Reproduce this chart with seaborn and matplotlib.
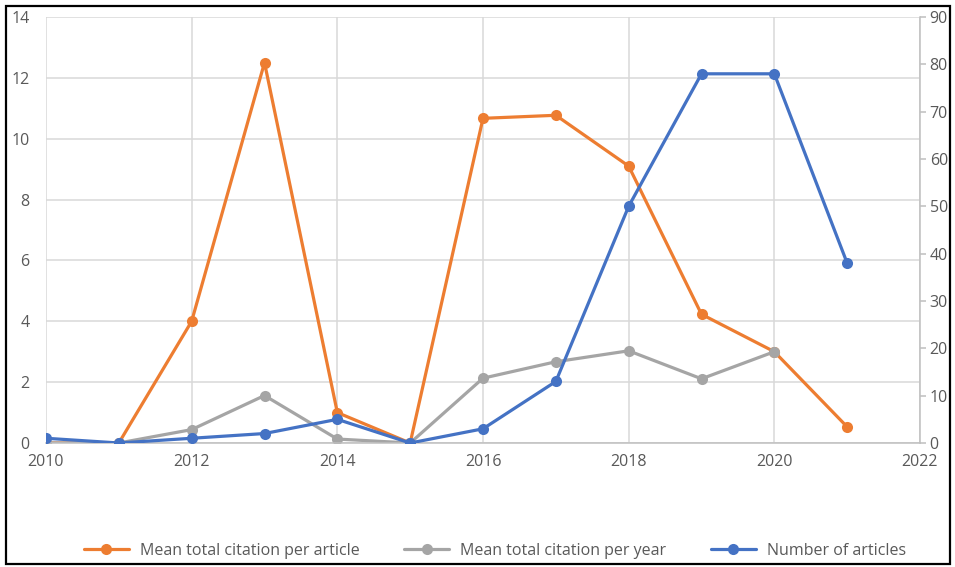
import matplotlib
matplotlib.use("Agg")
import matplotlib.pyplot as plt
import matplotlib.patches as mpatches
import seaborn as sns
import pandas as pd

years = [2010, 2011, 2012, 2013, 2014, 2015, 2016, 2017, 2018, 2019, 2020, 2021]
mean_citation_per_article = [0.0, 0.0, 4.0, 12.5, 1.0, 0.0, 10.67, 10.77, 9.1, 4.23, 3.0, 0.53]
mean_citation_per_year = [0.0, 0.0, 0.44, 1.56, 0.13, 0.0, 2.13, 2.67, 3.03, 2.11, 3.0]
number_of_articles = [1, 0, 1, 2, 5, 0, 3, 13, 50, 78, 78, 38]

left_ticks = [0, 2, 4, 6, 8, 10, 12, 14]
right_ticks = [0, 10, 20, 30, 40, 50, 60, 70, 80, 90]
x_ticks = [2010, 2012, 2014, 2016, 2018, 2020, 2022]

ORANGE = "#ED7D31"
GRAY = "#A5A5A5"
BLUE = "#4472C4"
TEXT = "#595959"
GRID = "#D9D9D9"
FS = 11.5

sns.set_style("white")
plt.rcParams["font.family"] = ["Open Sans", "DejaVu Sans"]
plt.rcParams["font.size"] = FS

df_article = pd.DataFrame({"year": years, "value": mean_citation_per_article})
df_year = pd.DataFrame({"year": years[:len(mean_citation_per_year)], "value": mean_citation_per_year})
df_count = pd.DataFrame({"year": years, "value": number_of_articles})

fig = plt.figure(figsize=(9.55, 5.67), dpi=100)
ax = fig.add_axes([46 / 955, 1 - 443 / 567, (920 - 46) / 955, (443 - 17) / 567])
ax2 = ax.twinx()

line_kw = dict(linewidth=2.3, marker="o", markersize=8, markeredgewidth=0)
sns.lineplot(data=df_article, x="year", y="value", ax=ax, color=ORANGE,
             label="Mean total citation per article", legend=False, **line_kw)
sns.lineplot(data=df_year, x="year", y="value", ax=ax, color=GRAY,
             label="Mean total citation per year", legend=False, **line_kw)
sns.lineplot(data=df_count, x="year", y="value", ax=ax2, color=BLUE,
             label="Number of articles", legend=False, **line_kw)

ax.set_xlim(2010, 2022)
ax.set_ylim(0, 14)
ax2.set_ylim(0, 90)
ax.set_xticks(x_ticks)
ax.set_yticks(left_ticks)
ax2.set_yticks(right_ticks)
ax.set_xlabel("")
ax.set_ylabel("")
ax2.set_ylabel("")

ax.grid(True, color=GRID, linewidth=1.1)
ax.set_axisbelow(True)
for a in (ax, ax2):
    for s in ("top", "left", "right", "bottom"):
        a.spines[s].set_visible(False)
ax2.spines["right"].set_visible(True)
ax2.spines["right"].set_color("#BFBFBF")
ax2.spines["right"].set_linewidth(1.1)
ax.spines["bottom"].set_visible(True)
ax.spines["bottom"].set_color("#BFBFBF")
ax.spines["bottom"].set_linewidth(1.1)

ax.tick_params(axis="x", length=0, pad=8, labelcolor=TEXT, labelsize=FS)
ax.tick_params(axis="y", length=0, pad=12, labelcolor=TEXT, labelsize=FS)
ax2.tick_params(axis="y", length=4, width=1.1, color="#BFBFBF", pad=3,
                labelcolor=TEXT, labelsize=FS)

handles = ax.get_lines()[:2] + ax2.get_lines()[:1]
labels = ["Mean total citation per article", "Mean total citation per year", "Number of articles"]
fig.legend(handles, labels, loc="center", bbox_to_anchor=(495 / 955, 1 - 551 / 567),
           ncol=3, frameon=False, handlelength=2.8, handletextpad=0.7,
           columnspacing=2.8, labelcolor=TEXT, fontsize=FS)

fig.patches.append(mpatches.Rectangle((6 / 955, 1 - 564 / 567), 944 / 955, 558 / 567,
                                      transform=fig.transFigure, fill=False,
                                      edgecolor="black", linewidth=1.6))

fig.savefig("out.png", dpi=100)
